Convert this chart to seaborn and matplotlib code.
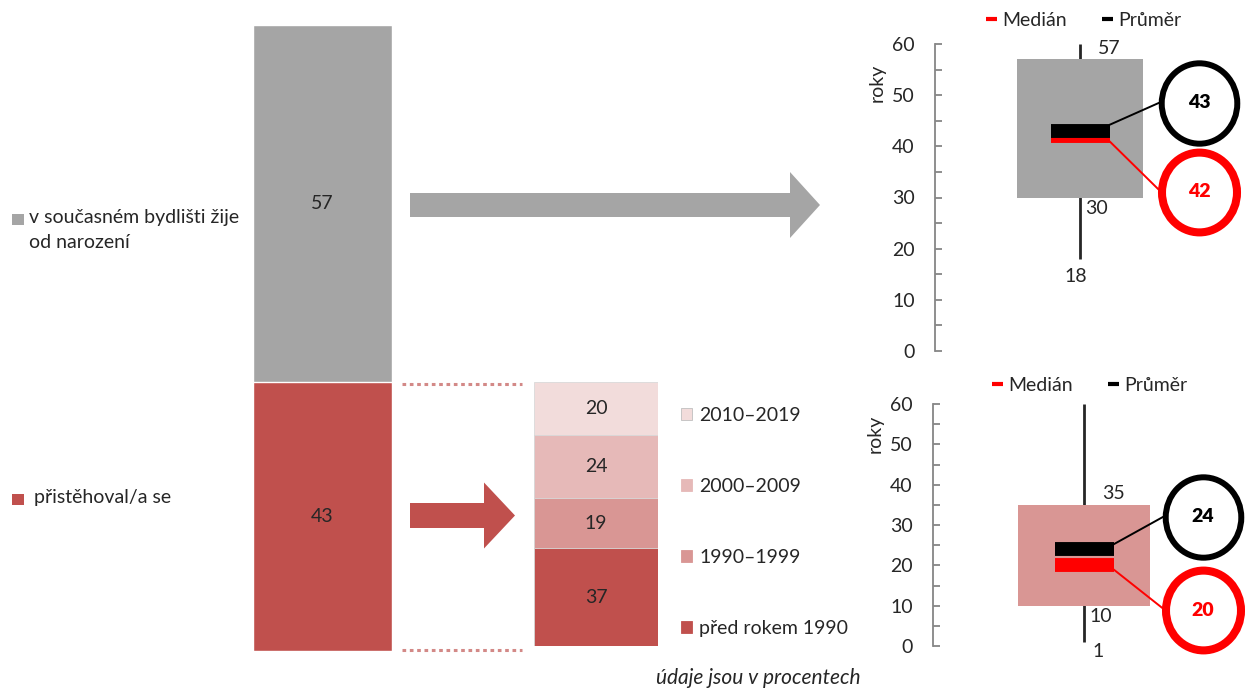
import numpy as np
import pandas as pd
import matplotlib
matplotlib.use("Agg")
import matplotlib.pyplot as plt
from matplotlib.patches import Patch, FancyArrow, Rectangle
from matplotlib.lines import Line2D
from matplotlib.path import Path
from matplotlib.transforms import Affine2D, blended_transform_factory
import seaborn as sns

# ---------------- data ----------------
main_labels = ["v současném bydlišti žije\nod narození", "přistěhoval/a se"]
main_values = [57, 43]                      # top -> bottom
period_labels = ["2010–2019", "2000–2009", "1990–1999", "před rokem 1990"]
period_values = [20, 24, 19, 37]            # top -> bottom
box_whislo = [18, 1]
box_q1 = [30, 10]
box_q3 = [57, 35]
box_whishi = [60, 60]
box_median = [42, 20]
box_mean = [43, 24]
y_ticks = [0, 10, 20, 30, 40, 50, 60]
stat_labels = ["Medián", "Průměr"]
y_label = "roky"
caption = "údaje jsou v procentech"

# ---------------- style ----------------
GREY = "#A5A5A5"
RED = "#C0504D"
main_colors = [GREY, RED]
period_colors = ["#F2DCDB", "#E6B9B8", "#D99694", "#C0504D"]
box_colors = [GREY, "#D99694"]
TXT = "#262626"
AXC = "#868686"
PURE_RED = "#FF0000"
FS = 14

sns.set_style("white")
plt.rcParams["font.family"] = ["Lato", "DejaVu Sans"]
plt.rcParams["font.size"] = FS
plt.rcParams["text.color"] = TXT

W, H = 1245, 689
fig = plt.figure(figsize=(W / 100, H / 100), dpi=100)


def px_axes(x0, y0, x1, y1, **kw):
    return fig.add_axes([x0 / W, 1 - y1 / H, (x1 - x0) / W, (y1 - y0) / H], **kw)


# background axes in pixel space (decorations)
bg = px_axes(0, 0, W, H)
bg.set_xlim(0, W)
bg.set_ylim(H, 0)
bg.axis("off")

# ---------------- main stacked bar ----------------
ax1 = px_axes(253, 25, 392, 651)
cum_main = [sum(main_values[i:]) for i in range(len(main_values))]
df1 = pd.DataFrame({"bar": ["all"] * len(main_values), "cum": cum_main, "seg": main_labels})
sns.barplot(data=df1, x="bar", y="cum", hue="seg", hue_order=main_labels,
            palette=main_colors, dodge=False, width=1, saturation=1,
            legend=False, ax=ax1)
ax1.set_xlim(-0.5, 0.5)
ax1.set_ylim(0, 100)
ax1.axis("off")
for c, v in zip(cum_main, main_values):
    ax1.text(0, c - v / 2, str(v), ha="center", va="center", fontsize=FS, color=TXT)

# left legend (manual squares)
for lab, col, ysq, xt in zip(main_labels, main_colors, [219, 499], [29, 34]):
    bg.add_patch(Rectangle((12, ysq - 5.5), 12, 11, color=col, lw=0))
    for k, line in enumerate(lab.split("\n")):
        bg.text(xt, ysq - 2 + 26 * k, line, ha="left", va="center", fontsize=FS, color=TXT)

# ---------------- period stacked bar ----------------
ax2 = px_axes(534, 382, 658, 646)
cum_per = [sum(period_values[i:]) for i in range(len(period_values))]
df2 = pd.DataFrame({"bar": ["all"] * len(period_values), "cum": cum_per, "seg": period_labels})
sns.barplot(data=df2, x="bar", y="cum", hue="seg", hue_order=period_labels,
            palette=period_colors, dodge=False, width=1, saturation=1,
            legend=False, ax=ax2, edgecolor="#D9D9D9", linewidth=0.6)
ax2.set_xlim(-0.5, 0.5)
ax2.set_ylim(0, 100)
ax2.axis("off")
for c, v in zip(cum_per, period_values):
    ax2.text(0, c - v / 2, str(v), ha="center", va="center", fontsize=FS, color=TXT)

handles = [Patch(facecolor=c, edgecolor="#BFBFBF" if i == 0 else c, lw=0.6)
           for i, c in enumerate(period_colors)]
fig.legend(handles, period_labels, loc="upper left",
           bbox_to_anchor=(681 / W, 1 - 407 / H), frameon=False,
           handlelength=0.55, handleheight=0.55, handletextpad=0.38,
           labelspacing=2.77, borderpad=0, borderaxespad=0, fontsize=FS)

# arrows and dotted lines
bg.add_patch(FancyArrow(410, 205, 410, 0, width=24, head_width=66, head_length=30,
                        length_includes_head=True, color=GREY, lw=0))
bg.add_patch(FancyArrow(410, 515.5, 105, 0, width=25, head_width=66, head_length=31,
                        length_includes_head=True, color=RED, lw=0))
for yy in [384, 650]:
    bg.plot([402, 522], [yy, yy], ls=(0, (1.2, 1.2)), lw=2.2, color="#D38987")

bg.text(758, 678, caption, ha="center", va="center", fontsize=15, style="italic", color=TXT)

# ---------------- box panels ----------------
ell = Path.unit_circle().transformed(Affine2D().scale(0.94, 1.0))
panel_rects = [(935, 44, 1245, 351), (933, 404, 1245, 646)]
box_cx_px = [1080, 1084]
box_w_px = [126, 132]
bubble_x_px = [1199, 1203]
bubble_y = [(48.5, 31.1), (32.0, 8.9)]      # (mean bubble, median bubble) positions
legend_pos = [(1084, 20), (1090, 385)]

for i in range(2):
    x0, y0, x1, y1 = panel_rects[i]
    pw = x1 - x0
    ax = px_axes(x0, y0, x1, y1)
    ax.set_facecolor("none")
    ax.set_xlim(0, 1)
    ax.set_ylim(0, 60)
    cx = (box_cx_px[i] - x0) / pw
    bw = box_w_px[i] / pw
    hw = 29.5 / pw
    bx = (bubble_x_px[i] - x0) / pw

    ax.vlines(cx, box_whislo[i], box_whishi[i], color=TXT, lw=2.0, zorder=1)
    ax.bar(cx, box_q3[i] - box_q1[i], bottom=box_q1[i], width=bw,
           color=box_colors[i], zorder=2, lw=0)
    ax.plot([cx - hw, cx + hw], [box_median[i]] * 2, color=PURE_RED, lw=10,
            solid_capstyle="butt", zorder=3)
    ax.plot([cx - hw, cx + hw], [box_mean[i]] * 2, color="black", lw=10,
            solid_capstyle="butt", zorder=4)

    # connectors + bubbles
    ymb, ymd = bubble_y[i]
    ax.plot([cx + hw, bx - 40 / pw], [box_mean[i] + 1.2, ymb], color="black", lw=1.4, zorder=3)
    ax.plot([cx + hw, bx - 38 / pw], [box_median[i] - 1.0, ymd], color=PURE_RED, lw=1.4, zorder=3)
    ax.scatter([bx], [ymb], s=3350, marker=ell, facecolor="white", edgecolor="black",
               linewidth=4.3, zorder=5, clip_on=False)
    ax.scatter([bx], [ymd], s=3300, marker=ell, facecolor="white", edgecolor=PURE_RED,
               linewidth=5.8, zorder=5, clip_on=False)
    ax.text(bx, ymb, str(box_mean[i]), ha="center", va="center", fontsize=FS,
            fontweight="heavy", color="black", zorder=6)
    ax.text(bx, ymd, str(box_median[i]), ha="center", va="center", fontsize=FS,
            fontweight="heavy", color=PURE_RED, zorder=6)

    # value labels
    ax.annotate(str(box_q3[i]), (cx, box_q3[i]), xytext=(13, 8), textcoords="offset points",
                ha="left", va="center", fontsize=FS, color=TXT, annotation_clip=False)
    ax.annotate(str(box_q1[i]), (cx, box_q1[i]), xytext=(4, -8), textcoords="offset points",
                ha="left", va="center", fontsize=FS, color=TXT, annotation_clip=False)
    if i == 0:
        ax.annotate(str(box_whislo[i]), (cx, box_whislo[i]), xytext=(-3, -13),
                    textcoords="offset points", ha="center", va="center", fontsize=FS,
                    color=TXT, annotation_clip=False)
    else:
        ax.annotate(str(box_whislo[i]), (cx, box_whislo[i]), xytext=(6, -7),
                    textcoords="offset points", ha="left", va="center", fontsize=FS,
                    color=TXT, annotation_clip=False)

    # axis styling
    ax.set_yticks(y_ticks)
    ax.set_yticks([t + 5 for t in y_ticks[:-1]], minor=True)
    ax.set_xticks([])
    ax.tick_params(axis="y", which="both", direction="in", length=5, width=1.3,
                   color=AXC, left=True, pad=14.5, labelsize=FS, labelcolor=TXT)
    for s in ["top", "right", "bottom"]:
        ax.spines[s].set_visible(False)
    ax.spines["left"].set_color(AXC)
    ax.spines["left"].set_linewidth(1.3)
    tr = blended_transform_factory(ax.transAxes, ax.transData)
    ax.text(-0.187, 52.5, y_label, transform=tr, rotation=90, ha="center",
            va="center", fontsize=FS, color=TXT)

    # legend
    lh = [Line2D([], [], color=PURE_RED, lw=3, solid_capstyle="butt"),
          Line2D([], [], color="black", lw=3, solid_capstyle="butt")]
    lx, ly = legend_pos[i]
    ax.legend(lh, stat_labels, ncol=2, loc="center", bbox_to_anchor=(lx / W, 1 - ly / H),
              bbox_transform=fig.transFigure, frameon=False, handlelength=0.55,
              handletextpad=0.28, columnspacing=1.8, fontsize=FS, borderpad=0)

fig.savefig("out.png", dpi=100)
